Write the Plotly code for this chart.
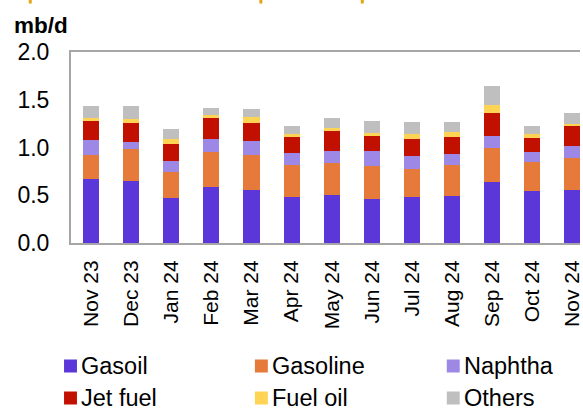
import plotly.graph_objects as go

# Monthly product volumes, mb/d
months = ["Nov 23", "Dec 23", "Jan 24", "Feb 24", "Mar 24", "Apr 24", "May 24",
          "Jun 24", "Jul 24", "Aug 24", "Sep 24", "Oct 24", "Nov 24"]
gasoil = [0.67, 0.65, 0.47, 0.59, 0.56, 0.48, 0.50, 0.46, 0.48, 0.49, 0.64, 0.54, 0.55]
gasoline = [0.25, 0.33, 0.27, 0.36, 0.36, 0.34, 0.34, 0.35, 0.29, 0.33, 0.36, 0.31, 0.34]
naphtha = [0.16, 0.08, 0.12, 0.14, 0.15, 0.12, 0.12, 0.15, 0.14, 0.11, 0.12, 0.10, 0.13]
jet_fuel = [0.20, 0.20, 0.18, 0.22, 0.19, 0.17, 0.21, 0.17, 0.18, 0.18, 0.24, 0.15, 0.20]
fuel_oil = [0.03, 0.04, 0.05, 0.03, 0.06, 0.03, 0.03, 0.02, 0.05, 0.05, 0.08, 0.04, 0.03]
others = [0.12, 0.13, 0.10, 0.07, 0.08, 0.08, 0.11, 0.13, 0.13, 0.11, 0.20, 0.09, 0.11]

series = [
    ("Gasoil", gasoil, "#5B37DA"),
    ("Gasoline", gasoline, "#E67A3B"),
    ("Naphtha", naphtha, "#9D88E6"),
    ("Jet fuel", jet_fuel, "#C10F00"),
    ("Fuel oil", fuel_oil, "#FFD454"),
    ("Others", others, "#BFBFBF"),
]

FONT = "Liberation Sans, Arial, sans-serif"
W, H = 583, 412
M_L, M_R, M_T, M_B = 71, 0, 52, 169
plot_w = W - M_L - M_R
plot_h = H - M_T - M_B


def px_x(px):
    return (px - M_L) / plot_w


def px_y(py):
    return (H - M_B - py) / plot_h


fig = go.Figure()
for name, vals, color in series:
    fig.add_trace(go.Bar(
        x=months, y=vals, name=name, showlegend=False,
        marker=dict(color=color, line=dict(width=0)),
        width=0.4,
    ))

axis_line = "#A6A6A6"
shapes = []
annotations = []

# small gold marks along the top edge
for x in [30, 262, 364]:
    shapes.append(dict(
        type="rect", xref="paper", yref="paper",
        x0=px_x(x - 1.5), x1=px_x(x + 1.5), y0=px_y(3.5), y1=px_y(0),
        fillcolor="#E6A40E", line=dict(width=0)))

# legend: two rows of three swatches below the axis labels
col_x = [64, 256, 449]
row_y = [366, 398]
for i, (name, _, color) in enumerate(series):
    cx = col_x[i % 3]
    cy = row_y[i // 3]
    shapes.append(dict(
        type="rect", xref="paper", yref="paper",
        x0=px_x(cx), x1=px_x(cx + 13), y0=px_y(cy + 6.5), y1=px_y(cy - 6.5),
        fillcolor=color, line=dict(width=0)))
    annotations.append(dict(
        text=name, xref="paper", yref="paper",
        x=px_x(cx + 16), y=px_y(cy), xanchor="left", yanchor="middle",
        showarrow=False, borderpad=0,
        font=dict(family=FONT, size=23.5, color="#000000")))

annotations.append(dict(
    text="<b>mb/d</b>", xref="paper", yref="paper",
    x=px_x(13), y=px_y(12), xanchor="left", yanchor="top",
    showarrow=False, borderpad=0,
    font=dict(family=FONT, size=22.5, color="#000000")))

fig.update_layout(
    width=W, height=H, autosize=False,
    margin=dict(l=M_L, r=M_R, t=M_T, b=M_B, pad=0),
    paper_bgcolor="#FFFFFF", plot_bgcolor="#FFFFFF",
    barmode="stack", bargap=0.6, showlegend=False,
    font=dict(family=FONT, size=23, color="#000000"),
    xaxis=dict(
        type="category", range=[-0.5, 12.19],
        showline=True, mirror=True, linecolor=axis_line, linewidth=2,
        showgrid=False, ticks="", tickangle=-90,
        tickfont=dict(family=FONT, size=21, color="#000000"),
        ticklabelstandoff=7,
    ),
    yaxis=dict(
        range=[0, 2.0], tickvals=[0, 0.5, 1.0, 1.5, 2.0],
        ticktext=["0.0", "0.5", "1.0", "1.5", "2.0"],
        showline=True, mirror=False, linecolor=axis_line, linewidth=2,
        showgrid=False, zeroline=False, ticks="",
        tickfont=dict(family=FONT, size=23, color="#000000"),
        ticklabelstandoff=15,
    ),
    shapes=shapes,
    annotations=annotations,
)

fig.write_html("out.html")
